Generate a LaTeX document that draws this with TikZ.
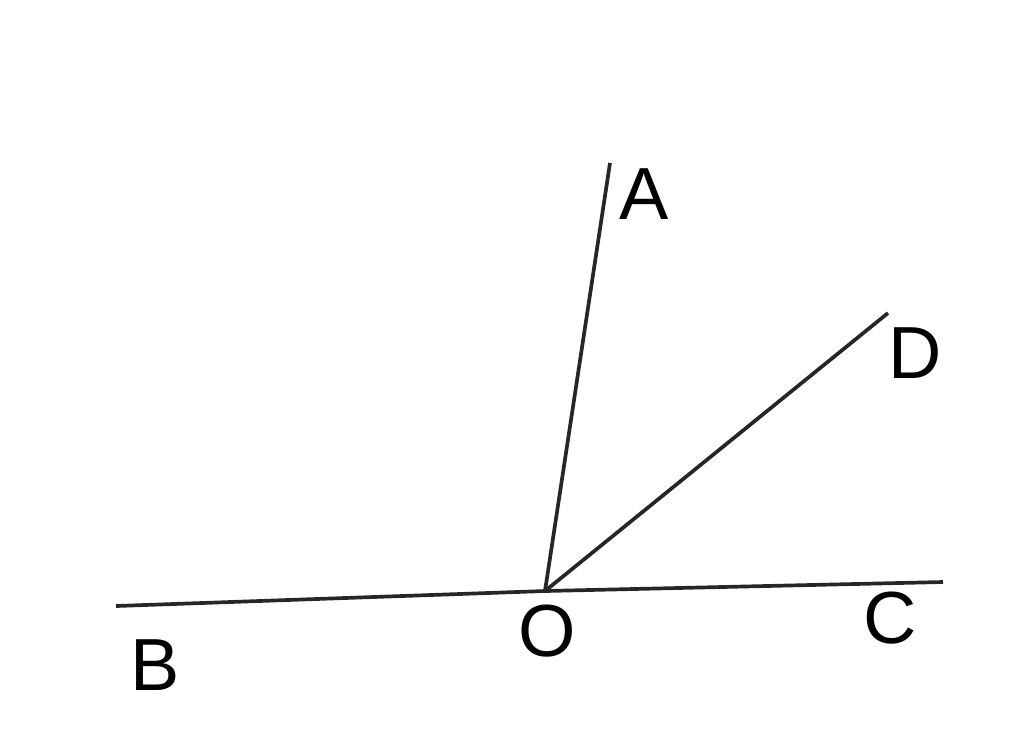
\documentclass[tikz,border=0pt]{standalone}
\usepackage{fontspec}
\setmainfont{Liberation Sans}
\tikzset{
  ray/.style={line width=1.05pt,black!85},
  lbl/.style={font=\fontsize{21}{24}\selectfont,inner sep=0pt}
}

\begin{document}
\begin{tikzpicture}[x=0.01cm,y=-0.01cm]
                \useasboundingbox (0,0) rectangle (1024,735);
                \coordinate (O) at (545,591);
                \coordinate (A) at (610,163);
                \coordinate (D) at (888,313);
                \coordinate (B) at (116,606);
                \coordinate (C) at (943,582);
                \draw[ray] (B)--(O)--(C);
                \draw[ray] (O)--(A);
                \draw[ray] (O)--(D);
                \node[lbl] (lA) at (644,194){A};
                \node[lbl] (lD) at (915,353){D};
                \node[lbl] (lC) at (890,618){C};
                \node[lbl] (lO) at (547,631){O};
                \node[lbl] (lB) at (155,665){B};
            \end{tikzpicture}
\end{document}
